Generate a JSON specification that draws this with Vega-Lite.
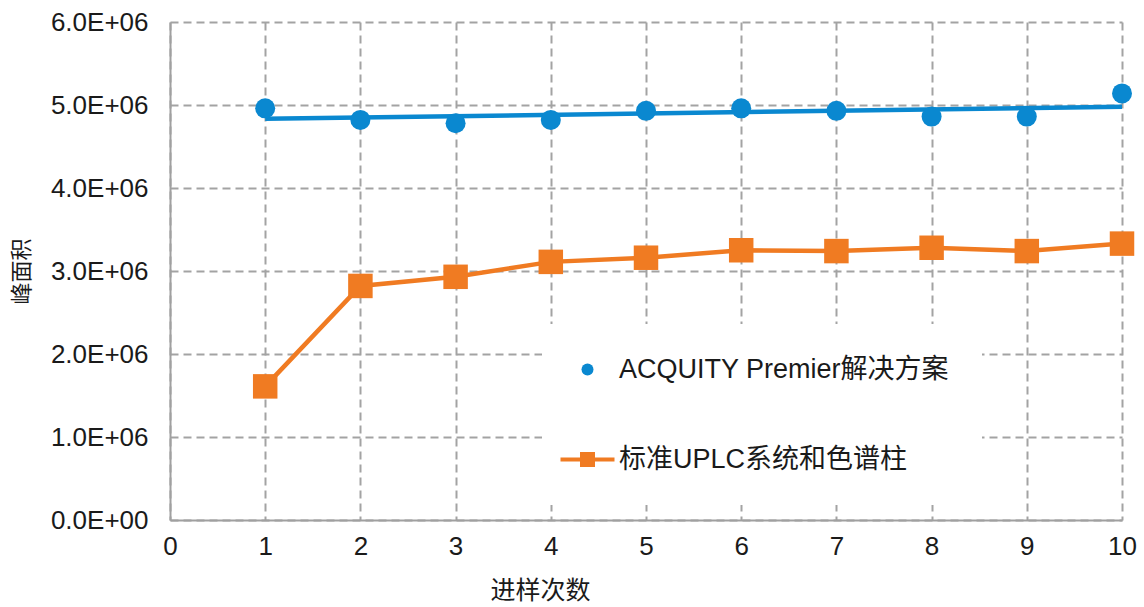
{
  "$schema": "https://vega.github.io/schema/vega-lite/v6.json",
  "width": 952,
  "height": 498,
  "autosize": "none",
  "padding": {"left": 170, "top": 22, "right": 22, "bottom": 87},
  "background": "white",
  "config": {
    "view": {"stroke": null},
    "font": "Liberation Sans, Noto Sans CJK SC",
    "axis": {
      "labelFont": "Liberation Sans, Noto Sans CJK SC",
      "titleFont": "Liberation Sans, Noto Sans CJK SC",
      "labelFontSize": 26,
      "labelColor": "#1a1a1a",
      "titleColor": "#1a1a1a",
      "titleFontWeight": "normal",
      "grid": true,
      "gridColor": "#a3a3a3",
      "gridDash": [8, 5],
      "gridWidth": 2,
      "domainColor": "#a0a0a0",
      "domainWidth": 2,
      "ticks": false
    }
  },
  "data": {
    "values": [
      {"run": 1, "series": "ACQUITY Premier解决方案", "area": 4960000},
      {"run": 2, "series": "ACQUITY Premier解决方案", "area": 4820000},
      {"run": 3, "series": "ACQUITY Premier解决方案", "area": 4780000},
      {"run": 4, "series": "ACQUITY Premier解决方案", "area": 4820000},
      {"run": 5, "series": "ACQUITY Premier解决方案", "area": 4930000},
      {"run": 6, "series": "ACQUITY Premier解决方案", "area": 4960000},
      {"run": 7, "series": "ACQUITY Premier解决方案", "area": 4930000},
      {"run": 8, "series": "ACQUITY Premier解决方案", "area": 4860000},
      {"run": 9, "series": "ACQUITY Premier解决方案", "area": 4860000},
      {"run": 10, "series": "ACQUITY Premier解决方案", "area": 5140000},
      {"run": 1, "series": "标准UPLC系统和色谱柱", "area": 1610000},
      {"run": 2, "series": "标准UPLC系统和色谱柱", "area": 2820000},
      {"run": 3, "series": "标准UPLC系统和色谱柱", "area": 2930000},
      {"run": 4, "series": "标准UPLC系统和色谱柱", "area": 3110000},
      {"run": 5, "series": "标准UPLC系统和色谱柱", "area": 3160000},
      {"run": 6, "series": "标准UPLC系统和色谱柱", "area": 3250000},
      {"run": 7, "series": "标准UPLC系统和色谱柱", "area": 3240000},
      {"run": 8, "series": "标准UPLC系统和色谱柱", "area": 3280000},
      {"run": 9, "series": "标准UPLC系统和色谱柱", "area": 3240000},
      {"run": 10, "series": "标准UPLC系统和色谱柱", "area": 3330000}
    ]
  },
  "encoding": {
    "x": {
      "field": "run",
      "type": "quantitative",
      "scale": {"domain": [0, 10], "nice": false, "zero": false},
      "axis": {
        "values": [0, 1, 2, 3, 4, 5, 6, 7, 8, 9, 10],
        "title": "进样次数",
        "titleFontSize": 25,
        "labelPadding": 13,
        "titleX": 370,
        "titleY": 70,
        "titleAlign": "center",
        "titleBaseline": "middle",
        "titleAnchor": null,
        "labelFlush": false
      }
    },
    "y": {
      "field": "area",
      "type": "quantitative",
      "scale": {"domain": [0, 6000000], "nice": false},
      "axis": {
        "values": [0, 1000000, 2000000, 3000000, 4000000, 5000000, 6000000],
        "labelExpr": "datum.value == 0 ? '0.0E+00' : format(datum.value / 1000000, '.1f') + 'E+06'",
        "title": "峰面积",
        "titleFontSize": 22,
        "labelPadding": 22,
        "titlePadding": 17,
        "labelFlush": false
      }
    }
  },
  "layer": [
    {
      "transform": [
        {"filter": "datum.series == 'ACQUITY Premier解决方案'"},
        {"regression": "area", "on": "run", "method": "linear", "extent": [1, 10]}
      ],
      "mark": {"type": "line", "color": "#0a88d0", "strokeWidth": 4.5}
    },
    {
      "transform": [{"filter": "datum.series == 'ACQUITY Premier解决方案'"}],
      "mark": {"type": "point", "filled": true, "size": 400, "opacity": 1},
      "encoding": {
        "color": {
          "field": "series",
          "type": "nominal",
          "scale": {
            "domain": ["ACQUITY Premier解决方案", "标准UPLC系统和色谱柱"],
            "range": ["#0a88d0", "#f07b22"]
          },
          "legend": {
            "orient": "none",
            "legendX": 372,
            "legendY": 302,
            "title": null,
            "fillColor": "white",
            "padding": 32,
            "labelFontSize": 27,
            "labelFont": "Liberation Sans, Noto Sans CJK SC",
            "labelColor": "#1a1a1a",
            "labelOffset": 18,
            "rowPadding": 62,
            "symbolSize": 144,
            "symbolStrokeWidth": 0,
            "symbolOpacity": 1,
            "labelLimit": 600
          }
        },
        "shape": {
          "field": "series",
          "type": "nominal",
          "scale": {
            "domain": ["ACQUITY Premier解决方案", "标准UPLC系统和色谱柱"],
            "range": ["circle", "M-4.5,-0.35H4.5V0.35H-4.5Z M-1.25,-1.25H1.25V1.25H-1.25Z"]
          }
        }
      }
    },
    {
      "transform": [{"filter": "datum.series == '标准UPLC系统和色谱柱'"}],
      "mark": {
        "type": "line",
        "strokeWidth": 4.5,
        "point": {"filled": true, "shape": "square", "size": 600, "opacity": 1}
      },
      "encoding": {
        "color": {"field": "series", "type": "nominal"}
      }
    }
  ]
}
